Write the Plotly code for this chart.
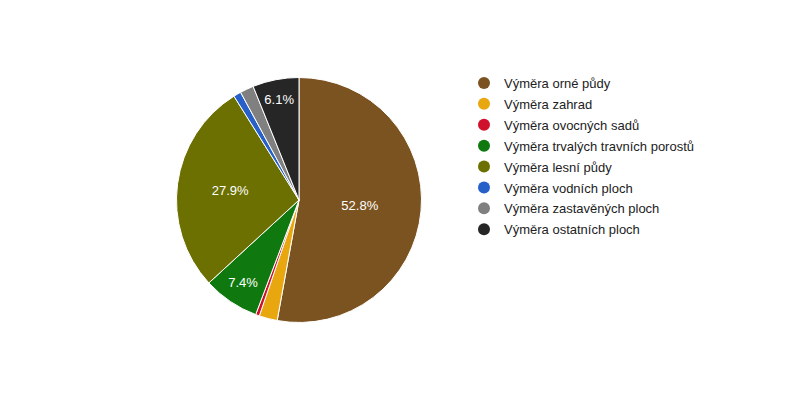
import plotly.graph_objects as go

labels = [
    "Výměra orné půdy",
    "Výměra zahrad",
    "Výměra ovocných sadů",
    "Výměra trvalých travních porostů",
    "Výměra lesní půdy",
    "Výměra vodních ploch",
    "Výměra zastavěných ploch",
    "Výměra ostatních ploch",
]
shares = [52.8, 2.4, 0.5, 7.4, 27.9, 1.0, 1.8, 6.1]
colors = ["#7B5321", "#E8A60F", "#D1112B", "#0F790F",
          "#6B7000", "#2660C8", "#808080", "#262626"]

# Google-style: only slices large enough carry a label
slice_text = [f"{v:.1f}%" if v >= 5 else "" for v in shares]

fig = go.Figure()

fig.add_trace(go.Pie(
    labels=labels,
    values=shares,
    text=slice_text,
    textinfo="text",
    textposition="inside",
    insidetextorientation="horizontal",
    textfont=dict(family="Liberation Sans, Arial", size=13, color="white"),
    marker=dict(colors=colors, line=dict(color="white", width=1)),
    sort=False,
    direction="clockwise",
    rotation=0,
    hole=0,
    domain=dict(x=[0.2106, 0.5169], y=[0.21375, 0.82625]),
    showlegend=False,
    hoverinfo="label+percent",
))

# dummy traces to get round legend markers
for i, (name, c) in enumerate(zip(labels, colors)):
    fig.add_trace(go.Scatter(
        x=[None], y=[None],
        mode="markers",
        marker=dict(color=c, size=12, symbol="circle"),
        name=name,
        legendgroup=f"g{i}",
        showlegend=True,
        hoverinfo="skip",
    ))

fig.update_layout(
    width=800,
    height=400,
    margin=dict(l=0, r=0, t=0, b=0),
    paper_bgcolor="white",
    plot_bgcolor="white",
    xaxis=dict(visible=False),
    yaxis=dict(visible=False),
    font=dict(family="Liberation Sans, Arial", size=13, color="#222222"),
    legend=dict(
        x=0.57,
        y=0.85,
        xanchor="left",
        yanchor="top",
        font=dict(size=13, color="#222222"),
        itemwidth=30,
        tracegroupgap=1,
        bgcolor="rgba(0,0,0,0)",
    ),
)

fig.write_html("out.html")
